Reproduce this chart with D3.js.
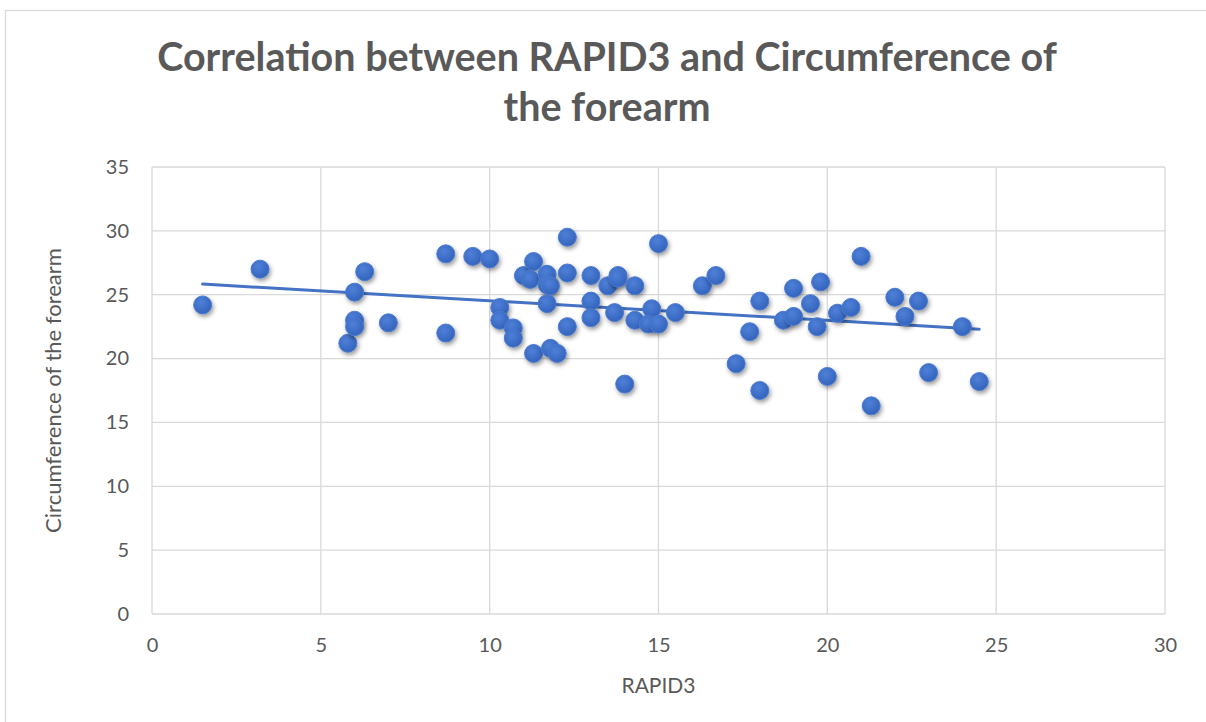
<!DOCTYPE html>
<html>
<head>
<meta charset="utf-8">
<script src="https://cdn.jsdelivr.net/npm/d3@7"></script>
<style>
  html, body { margin: 0; padding: 0; background: #fff; }
  svg { display: block; font-family: Lato, 'Open Sans', sans-serif; }
</style>
</head>
<body>
<svg id="chart" width="1206" height="722"></svg>
<script>
const TITLE_LINES = ['Correlation between RAPID3 and Circumference of', 'the forearm'];
const X_LABEL = 'RAPID3';
const Y_LABEL = 'Circumference of the forearm';
const X_TICKS = [0, 5, 10, 15, 20, 25, 30];
const Y_TICKS = [0, 5, 10, 15, 20, 25, 30, 35];

const rapid3 = [
  1.5, 3.2, 5.8, 6.0, 6.0, 6.0, 6.3, 7.0, 8.7, 8.7,
  9.5, 10.0, 10.3, 10.3, 10.7, 10.7, 11.0, 11.3, 11.2, 11.3,
  11.7, 11.7, 11.8, 11.7, 11.8, 12.0, 12.3, 12.3, 12.3, 13.0,
  13.0, 13.0, 13.5, 13.8, 13.8, 13.7, 14.0, 14.3, 14.3, 14.8,
  14.7, 15.0, 15.0, 15.5, 16.3, 16.7, 17.3, 17.7, 18.0, 18.0,
  18.7, 19.0, 19.0, 19.5, 19.7, 19.8, 20.0, 20.3, 20.7, 21.0,
  21.3, 22.0, 22.3, 22.7, 23.0, 24.0, 24.5
];
const circumference = [
  24.2, 27.0, 21.2, 25.2, 23.0, 22.5, 26.8, 22.8, 28.2, 22.0,
  28.0, 27.8, 24.0, 23.0, 22.4, 21.6, 26.5, 27.6, 26.2, 20.4,
  26.6, 25.8, 25.7, 24.3, 20.8, 20.4, 29.5, 26.7, 22.5, 26.5,
  24.5, 23.2, 25.7, 26.5, 26.3, 23.6, 18.0, 25.7, 23.0, 23.9,
  22.7, 22.7, 29.0, 23.6, 25.7, 26.5, 19.6, 22.1, 24.5, 17.5,
  23.0, 23.3, 25.5, 24.3, 22.5, 26.0, 18.6, 23.55, 24.0, 28.0,
  16.3, 24.8, 23.3, 24.5, 18.9, 22.5, 18.2
];

const points = rapid3.map((x, i) => ({ x, y: circumference[i] }));

const svg = d3.select('#chart');
const textColor = '#595959';
const gridColor = '#d9d9d9';
const blue = '#4472c4';

const x = d3.scaleLinear().domain([0, 30]).range([152, 1165]);
const y = d3.scaleLinear().domain([0, 35]).range([614, 167]);

// chart frame (only left/top edges fall inside the picture)
svg.append('rect').attr('x', 5.5).attr('y', 10.5).attr('width', 1220).attr('height', 730)
  .attr('fill', '#fff').attr('stroke', gridColor).attr('stroke-width', 1.3);

const defs = svg.append('defs');
const grad = defs.append('radialGradient').attr('id', 'dotFill')
  .attr('cx', '40%').attr('cy', '35%').attr('r', '65%');
grad.append('stop').attr('offset', '0%').attr('stop-color', '#4f80d8');
grad.append('stop').attr('offset', '100%').attr('stop-color', '#3464bd');
const shadow = defs.append('filter').attr('id', 'dotShadow')
  .attr('x', '-50%').attr('y', '-50%').attr('width', '200%').attr('height', '200%');
shadow.append('feDropShadow').attr('dx', 1.5).attr('dy', 2.5).attr('stdDeviation', 2)
  .attr('flood-color', '#000').attr('flood-opacity', 0.4);

// gridlines
svg.append('g')
  .selectAll('line').data(Y_TICKS).join('line')
  .attr('x1', x(0)).attr('x2', x(30))
  .attr('y1', d => y(d)).attr('y2', d => y(d))
  .attr('stroke', gridColor).attr('stroke-width', 1.3);
svg.append('g')
  .selectAll('line').data(X_TICKS).join('line')
  .attr('x1', d => x(d)).attr('x2', d => x(d))
  .attr('y1', y(0)).attr('y2', y(35))
  .attr('stroke', gridColor).attr('stroke-width', 1.3);

// axes (labels only, gridlines do the framing)
const xAxis = svg.append('g').attr('transform', `translate(0,${y(0)})`)
  .call(d3.axisBottom(x).tickValues(X_TICKS).tickSize(0).tickPadding(24));
const yAxis = svg.append('g').attr('transform', `translate(${x(0)},0)`)
  .call(d3.axisLeft(y).tickValues(Y_TICKS).tickSize(0).tickPadding(23));
[xAxis, yAxis].forEach(a => {
  a.select('.domain').remove();
  a.selectAll('text').attr('fill', textColor).attr('font-size', 20)
    .attr('font-family', 'Lato, sans-serif');
});

// trendline (least squares)
const mx = d3.mean(rapid3), my = d3.mean(circumference);
const slope = d3.sum(points, p => (p.x - mx) * (p.y - my)) / d3.sum(points, p => (p.x - mx) ** 2);
const icpt = my - slope * mx;
const [xmin, xmax] = d3.extent(rapid3);
svg.append('line')
  .attr('x1', x(xmin)).attr('y1', y(icpt + slope * xmin))
  .attr('x2', x(xmax)).attr('y2', y(icpt + slope * xmax))
  .attr('stroke', blue).attr('stroke-width', 3).attr('stroke-linecap', 'round');

// points
svg.append('g').selectAll('circle').data(points).join('circle')
  .attr('cx', d => x(d.x)).attr('cy', d => y(d.y)).attr('r', 9)
  .attr('fill', 'url(#dotFill)').attr('stroke', '#4a7ad0').attr('stroke-width', 1)
  .attr('filter', 'url(#dotShadow)');

// title
svg.append('text').attr('text-anchor', 'middle').attr('fill', textColor)
  .attr('font-size', 39.5).attr('font-weight', 700)
  .selectAll('tspan').data(TITLE_LINES).join('tspan')
  .attr('x', 607).attr('y', (d, i) => 71 + i * 50).text(d => d);

// axis titles
svg.append('text').attr('x', x(15)).attr('y', 693).attr('text-anchor', 'middle')
  .attr('fill', textColor).attr('font-size', 21).text(X_LABEL);
svg.append('text').attr('transform', `translate(61,${(y(0) + y(35)) / 2}) rotate(-90)`)
  .attr('text-anchor', 'middle').attr('fill', textColor).attr('font-size', 22).text(Y_LABEL);
</script>
</body>
</html>
